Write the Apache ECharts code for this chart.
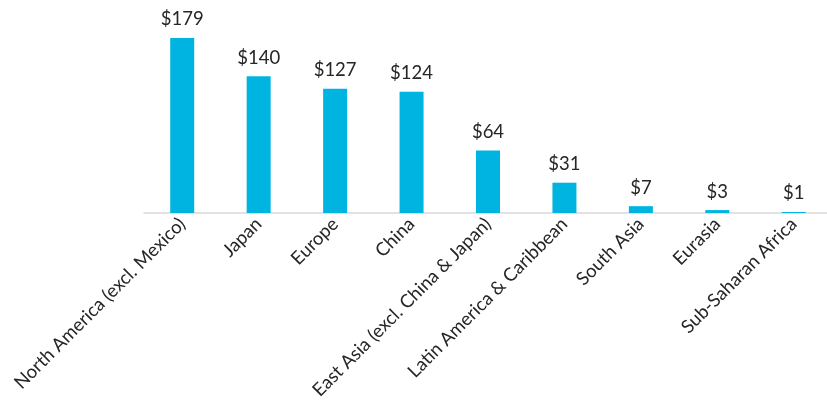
<!DOCTYPE html>
<html><head><meta charset="utf-8">
<script src="https://cdn.jsdelivr.net/npm/echarts@6/dist/echarts.min.js"></script>
<style>html,body{margin:0;padding:0;background:#fff;overflow:hidden}#c{width:835px;height:411px}</style>
</head><body><div id="c"></div>
<script>
const categories = ["North America (excl. Mexico)","Japan","Europe","China","East Asia (excl. China & Japan)","Latin America & Caribbean","South Asia","Eurasia","Sub-Saharan Africa"];
const values = [179,140,127,124,64,31,7,3,1];
const chart = echarts.init(document.getElementById('c'));
chart.setOption({
  animation:false,
  grid:{left:144,top:17.5,right:3,bottom:198,containLabel:false},
  xAxis:{type:'category',data:categories,
    axisLine:{lineStyle:{color:'#d9d9d9',width:1.5}},axisTick:{show:false},
    axisLabel:{rotate:45,interval:0,color:'#262626',fontFamily:'Lato',fontSize:18.5,margin:8}},
  yAxis:{type:'value',min:0,max:200,show:false,splitLine:{show:false}},
  series:[{type:'bar',data:values,barWidth:24,itemStyle:{color:'#00B4E1'},
    label:{show:true,position:'top',distance:9,formatter:p=>'$'+p.value,color:'#262626',fontFamily:'Lato',fontSize:18.5}}]
});
</script></body></html>
